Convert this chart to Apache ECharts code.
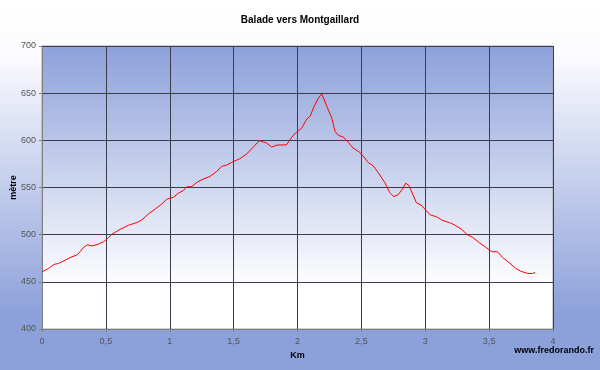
<!DOCTYPE html>
<html>
<head>
<meta charset="utf-8">
<script src="https://cdn.jsdelivr.net/npm/echarts@6/dist/echarts.min.js"></script>
<style>
    html, body { margin: 0; padding: 0; }
    #chart { width: 600px; height: 370px; }
</style>
</head>
<body>
<div id="chart"></div>
<script>
const distKm = [
    0, 0.052, 0.091, 0.13, 0.182, 0.234, 0.273, 0.299, 0.325, 0.357,
    0.391, 0.443, 0.482, 0.508, 0.547, 0.612, 0.677, 0.742, 0.781, 0.833,
    0.885, 0.938, 0.977, 1.029, 1.068, 1.107, 1.133, 1.172, 1.211, 1.25,
    1.315, 1.367, 1.406, 1.445, 1.484, 1.549, 1.602, 1.654, 1.701, 1.758,
    1.797, 1.841, 1.914, 1.956, 1.99, 2.034, 2.073, 2.099, 2.125, 2.164,
    2.19, 2.203, 2.229, 2.268, 2.294, 2.319, 2.358, 2.397, 2.436, 2.488,
    2.527, 2.553, 2.592, 2.631, 2.683, 2.722, 2.753, 2.787, 2.821, 2.847,
    2.873, 2.904, 2.93, 2.969, 3.008, 3.039, 3.086, 3.138, 3.19, 3.229,
    3.281, 3.333, 3.371, 3.423, 3.475, 3.522, 3.566, 3.605, 3.657, 3.709,
    3.748, 3.8, 3.839, 3.86
]
const altitude = [
    460.6, 464.2, 468.4, 469.5, 473, 476.6, 478.4, 482, 486.5, 489.4,
    488, 490.1, 492.5, 495.4, 500.4, 505.7, 510, 512.8, 515.6, 522,
    527, 532.6, 537.6, 539.7, 544, 546.8, 550.7, 551, 555.3, 558.2,
    561.7, 567, 572.3, 573.8, 576.6, 580.5, 585.5, 592.9, 599.6, 597.2,
    592.9, 595, 595.2, 603.5, 608.5, 613.1, 622.7, 625.5, 634.4, 645,
    649.3, 647.5, 636.2, 623.8, 609.6, 605.3, 603.5, 597.9, 591.8, 587.2,
    581.2, 576.6, 573, 566, 555.3, 544.7, 540.4, 542.2, 548.2, 554.6,
    552.1, 542.2, 534, 531.2, 525.5, 520.9, 519.1, 514.9, 512.8, 510.3,
    506, 499.6, 497.2, 491.5, 486.5, 481.9, 481.9, 475.9, 470.2, 464.2,
    461.3, 458.9, 458.9, 460
]

const blue = '#8ca0da'

window.addEventListener('load', renderProfile)

function renderProfile() {
    const chart = echarts.init(document.querySelector('#chart'))

    const option = {
        animation: false,
        backgroundColor: {
            type: 'linear',
            x: 0, y: 0, x2: 0, y2: 1,
            colorStops: [
                { offset: 0, color: '#ffffff' },
                { offset: 0.15, color: '#fbfbfe' },
                { offset: 0.85, color: blue },
                { offset: 1, color: blue }
            ]
        },
        title: {
            text: 'Balade vers Montgaillard',
            left: 'center',
            top: 10,
            textStyle: {
                fontFamily: 'Liberation Sans',
                fontSize: 10,
                fontWeight: 'bold',
                color: '#000'
            }
        },
        grid: {
            left: 42,
            right: 47,
            top: 46,
            bottom: 41,
            outerBoundsMode: 'none',
            containLabel: false,
            show: true,
            borderColor: '#a0a0a8',
            borderWidth: 1,
            backgroundColor: {
                type: 'linear',
                x: 0, y: 0, x2: 0, y2: 1,
                colorStops: [
                    { offset: 0, color: blue },
                    { offset: 0.85, color: '#ffffff' },
                    { offset: 1, color: '#ffffff' }
                ]
            }
        },
        xAxis: {
            type: 'value',
            min: 0,
            max: 4,
            interval: 0.5,
            name: 'Km',
            nameLocation: 'middle',
            nameGap: 22,
            nameMoveOverlap: false,
            nameTextStyle: {
                fontFamily: 'Liberation Sans',
                fontSize: 9,
                fontWeight: 'bold',
                color: '#000'
            },
            axisLine: { show: true, lineStyle: { color: '#808080' } },
            axisTick: { show: true, length: 3, lineStyle: { color: '#808080' } },
            axisLabel: {
                fontFamily: 'Liberation Sans',
                fontSize: 9,
                color: '#555',
                margin: 8,
                formatter: v => String(v).replace('.', ',')
            },
            splitLine: { show: true, lineStyle: { color: '#3c3c4c', width: 1 } }
        },
        yAxis: {
            type: 'value',
            min: 400,
            max: 700,
            interval: 50,
            name: 'mètre',
            nameLocation: 'middle',
            nameGap: 24,
            nameMoveOverlap: false,
            nameTextStyle: {
                fontFamily: 'Liberation Sans',
                fontSize: 9,
                fontWeight: 'bold',
                color: '#000'
            },
            axisLine: { show: true, lineStyle: { color: '#808080' } },
            axisTick: { show: true, length: 3, lineStyle: { color: '#808080' } },
            axisLabel: {
                fontFamily: 'Liberation Sans',
                fontSize: 9,
                color: '#555',
                margin: 6
            },
            splitLine: { show: true, lineStyle: { color: '#3c3c4c', width: 1 } }
        },
        graphic: [
            {
                type: 'text',
                right: 6,
                top: 346,
                style: {
                    text: 'www.fredorando.fr',
                    fontFamily: 'Liberation Sans',
                    fontSize: 9,
                    fontWeight: 'bold',
                    fill: '#000'
                }
            }
        ],
        series: [
            {
                type: 'line',
                data: distKm.map((d, i) => [d, altitude[i]]),
                showSymbol: false,
                smooth: false,
                lineStyle: { color: '#ff0000', width: 1 }
            }
        ]
    }

    chart.setOption(option)
}
</script>
</body>
</html>
